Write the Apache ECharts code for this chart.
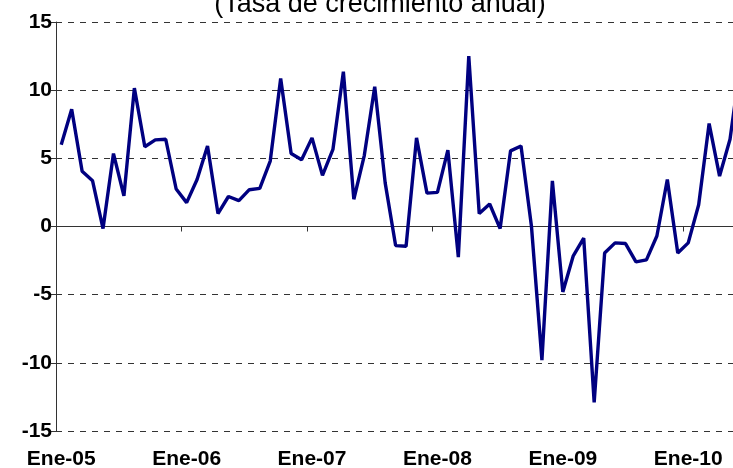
<!DOCTYPE html>
<html>
<head>
<meta charset="utf-8">
<script src="https://cdn.jsdelivr.net/npm/echarts@6/dist/echarts.min.js"></script>
<style>
html,body{margin:0;padding:0;background:#fff;overflow:hidden;}
#chart{width:733px;height:468px;}
</style>
</head>
<body>
<div id="chart"></div>
<script>
var months = ['Ene','Feb','Mar','Abr','May','Jun','Jul','Ago','Sep','Oct','Nov','Dic'];
var years = ['05','06','07','08','09','10'];
var titleText = '(Tasa de crecimiento anual)';
var yTicks = [-15, -10, -5, 0, 5, 10, 15];
var values = [
  6.0, 8.6, 4.05, 3.35, -0.15, 5.35, 2.25, 10.15, 5.85, 6.35, 6.4, 2.75,
  1.75, 3.45, 5.9, 0.95, 2.2, 1.9, 2.7, 2.8, 4.8, 10.85, 5.35, 4.9,
  6.5, 3.75, 5.65, 11.35, 2.0, 5.2, 10.25, 3.2, -1.4, -1.45, 6.5, 2.45,
  2.5, 5.6, -2.25, 12.5, 0.95, 1.65, -0.15, 5.55, 5.9, 0.0, -9.8, 3.35,
  -4.8, -2.15, -0.85, -12.9, -1.95, -1.2, -1.25, -2.6, -2.45, -0.7, 3.45, -1.95,
  -1.2, 1.6, 7.55, 3.7, 6.4, 12.0
];

var categories = [];
for (var y = 0; y < years.length; y++) {
  for (var m = 0; m < months.length; m++) {
    categories.push(months[m] + '-' + years[y]);
  }
}
categories = categories.slice(0, values.length);

var chart = echarts.init(document.getElementById('chart'), null, {renderer: 'canvas'});
var labelFont = {fontFamily: 'Liberation Sans, Arial, sans-serif', fontWeight: 'bold', fontSize: 21, color: '#000'};
chart.setOption({
  backgroundColor: '#fff',
  animation: false,
  graphic: [{
    type: 'text',
    x: 380,
    y: -9,
    style: {
      text: titleText,
      fill: '#000',
      font: 'normal 27px "Liberation Sans", Arial, sans-serif',
      align: 'center',
      verticalAlign: 'top',
      textAlign: 'center',
      textVerticalAlign: 'top'
    }
  }],
  grid: {left: 56, top: 22, width: 689.7, bottom: 37, containLabel: false, outerBoundsMode: 'none'},
  xAxis: [{
    type: 'category',
    data: categories,
    boundaryGap: true,
    position: 'bottom',
    axisLine: {show: true, onZero: true, lineStyle: {color: '#333', width: 1}},
    axisTick: {show: true, interval: 11, length: 5, lineStyle: {color: '#333'}},
    axisLabel: {show: false},
    splitLine: {show: false}
  }, {
    type: 'category',
    data: categories,
    boundaryGap: true,
    position: 'bottom',
    axisLine: {show: false, onZero: false},
    axisTick: {show: false},
    axisLabel: Object.assign({interval: 11, margin: 18}, labelFont),
    splitLine: {show: false}
  }],
  yAxis: {
    type: 'value',
    min: yTicks[0],
    max: yTicks[yTicks.length - 1],
    interval: 5,
    axisLine: {show: true, lineStyle: {color: '#333', width: 1}},
    axisTick: {show: true, length: 5, lineStyle: {color: '#333'}},
    axisLabel: Object.assign({margin: 4}, labelFont),
    splitLine: {show: true, lineStyle: {color: '#333', width: 1, type: [6, 6]}}
  },
  series: [{
    type: 'line',
    data: values,
    xAxisIndex: 0,
    yAxisIndex: 0,
    showSymbol: false,
    symbol: 'none',
    lineStyle: {color: '#000080', width: 3.4},
    itemStyle: {color: '#000080'}
  }]
});
</script>
</body>
</html>
